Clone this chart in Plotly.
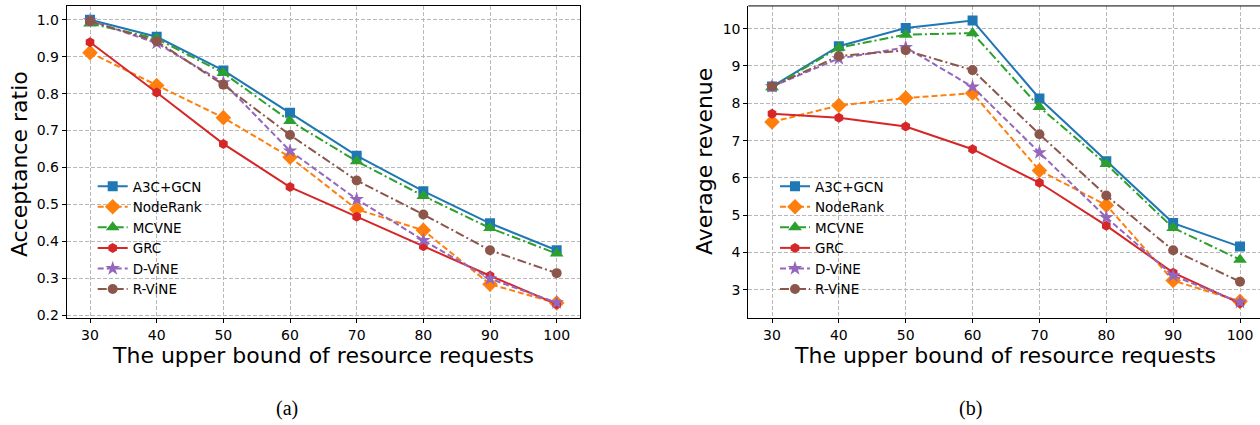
import plotly.graph_objects as go

W, H = 1260, 425

x_vals = [30, 40, 50, 60, 70, 80, 90, 100]
methods = ["A3C+GCN", "NodeRank", "MCVNE", "GRC", "D-ViNE", "R-ViNE"]

acc_a3c = [1.000, 0.954, 0.863, 0.748, 0.632, 0.536, 0.449, 0.376]
acc_noderank = [0.911, 0.822, 0.735, 0.628, 0.487, 0.430, 0.284, 0.233]
acc_mcvne = [0.990, 0.949, 0.856, 0.726, 0.617, 0.523, 0.436, 0.367]
acc_grc = [0.939, 0.803, 0.664, 0.547, 0.467, 0.387, 0.307, 0.230]
acc_dvine = [0.998, 0.937, 0.830, 0.645, 0.514, 0.403, 0.299, 0.234]
acc_rvine = [0.996, 0.942, 0.824, 0.688, 0.565, 0.473, 0.376, 0.314]

rev_a3c = [8.45, 9.53, 10.02, 10.22, 8.13, 6.45, 4.79, 4.16]
rev_noderank = [7.50, 7.94, 8.14, 8.27, 6.20, 5.27, 3.25, 2.69]
rev_mcvne = [8.43, 9.49, 9.84, 9.88, 7.90, 6.37, 4.66, 3.81]
rev_grc = [7.72, 7.61, 7.38, 6.77, 5.87, 4.72, 3.46, 2.64]
rev_dvine = [8.45, 9.20, 9.50, 8.44, 6.68, 4.94, 3.38, 2.67]
rev_rvine = [8.45, 9.27, 9.42, 8.89, 7.17, 5.53, 4.06, 3.22]

acc_series = [acc_a3c, acc_noderank, acc_mcvne, acc_grc, acc_dvine, acc_rvine]
rev_series = [rev_a3c, rev_noderank, rev_mcvne, rev_grc, rev_dvine, rev_rvine]

acc_ticks = [0.2, 0.3, 0.4, 0.5, 0.6, 0.7, 0.8, 0.9, 1.0]
rev_ticks = [3, 4, 5, 6, 7, 8, 9, 10]

colors = ["#1f77b4", "#ff7f0e", "#2ca02c", "#d62728", "#9467bd", "#8c564b"]
symbols = ["square", "diamond", "triangle-up", "hexagon", "star", "circle"]
msizes = [10, 12, 12, 10, 11, 10]
dashes = ["solid", "6px,3px", "9px,3px,2px,3px", "solid", "6px,3px", "9px,3px,2px,3px"]

fig = go.Figure()

for i, name in enumerate(methods):
    fig.add_trace(go.Scatter(
        x=x_vals, y=acc_series[i], name=name, mode="lines+markers",
        line=dict(color=colors[i], width=2, dash=dashes[i]),
        marker=dict(symbol=symbols[i], size=msizes[i], color=colors[i], line=dict(width=0)),
        xaxis="x", yaxis="y", legend="legend",
    ))
for i, name in enumerate(methods):
    fig.add_trace(go.Scatter(
        x=x_vals, y=rev_series[i], name=name, mode="lines+markers",
        line=dict(color=colors[i], width=2, dash=dashes[i]),
        marker=dict(symbol=symbols[i], size=msizes[i], color=colors[i], line=dict(width=0)),
        xaxis="x2", yaxis="y2", legend="legend2",
    ))

def px(v):
    return v / W

def py(v):
    return 1 - v / H

top, bottom = 6, 322
L0, L1 = 66.7, 580.0
R0, R1 = 748.3, 1260.0

tick_font = dict(family="DejaVu Sans", size=14, color="black")
grid = dict(showgrid=True, gridcolor="#b8b8b8", gridwidth=1, griddash="4px,2px")

common_x = dict(tickvals=x_vals, ticks="outside", ticklen=4, tickcolor="black",
                tickfont=tick_font, showline=True, linecolor="black", linewidth=1,
                zeroline=False, **grid)

fig.update_layout(
    width=W, height=H, margin=dict(l=0, r=0, t=0, b=0),
    paper_bgcolor="white", plot_bgcolor="white",
    xaxis=dict(domain=[px(L0), px(L1)], range=[26.5, 103.5], mirror=True, anchor="y", **common_x),
    yaxis=dict(domain=[py(bottom), py(top)], range=[0.192, 1.0375], tickvals=acc_ticks,
               tickformat=".1f", ticks="outside", ticklen=4, tickcolor="black",
               tickfont=tick_font, showline=True, linecolor="black", linewidth=1,
               mirror=True, zeroline=False, anchor="x", **grid),
    xaxis2=dict(domain=[px(R0), px(R1)], range=[26.455, 102.99], mirror=False, anchor="y2", **common_x),
    yaxis2=dict(domain=[py(bottom), py(top)], range=[2.24, 10.61], tickvals=rev_ticks,
                ticks="outside", ticklen=4, tickcolor="black",
                tickfont=tick_font, showline=True, linecolor="black", linewidth=1,
                mirror=False, zeroline=False, anchor="x2", **grid),
    legend=dict(x=px(92.7), y=py(173), xanchor="left", yanchor="top",
                bgcolor="rgba(0,0,0,0)", borderwidth=0,
                font=dict(family="DejaVu Sans", size=13.5, color="black")),
    legend2=dict(x=px(775), y=py(173), xanchor="left", yanchor="top",
                 bgcolor="rgba(0,0,0,0)", borderwidth=0,
                 font=dict(family="DejaVu Sans", size=13.5, color="black")),
    showlegend=True,
)

# top border line of the right panel (its right border lies outside the picture)
fig.add_shape(type="line", xref="paper", yref="paper", x0=px(R0), x1=1.0,
              y0=py(top), y1=py(top), line=dict(color="black", width=1))

title_font = dict(family="DejaVu Sans", size=22, color="black")
cap_font = dict(family="Liberation Serif", size=20, color="black")
annotations = [
    dict(text="The upper bound of resource requests", x=px((L0 + L1) / 2), y=py(360),
         xref="paper", yref="paper", showarrow=False, font=title_font,
         xanchor="center", yanchor="middle"),
    dict(text="The upper bound of resource requests", x=px(1005), y=py(360),
         xref="paper", yref="paper", showarrow=False, font=title_font,
         xanchor="center", yanchor="middle"),
    dict(text="Acceptance ratio", x=px(19), y=py(166), xref="paper", yref="paper",
         showarrow=False, font=title_font, textangle=-90, xanchor="center", yanchor="middle"),
    dict(text="Average revenue", x=px(704), y=py(164), xref="paper", yref="paper",
         showarrow=False, font=title_font, textangle=-90, xanchor="center", yanchor="middle"),
    dict(text="(a)", x=px(287), y=py(413), xref="paper", yref="paper", showarrow=False,
         font=cap_font, xanchor="center", yanchor="middle"),
    dict(text="(b)", x=px(970), y=py(413), xref="paper", yref="paper", showarrow=False,
         font=cap_font, xanchor="center", yanchor="middle"),
]
fig.update_layout(annotations=annotations)

fig.write_html("out.html")
